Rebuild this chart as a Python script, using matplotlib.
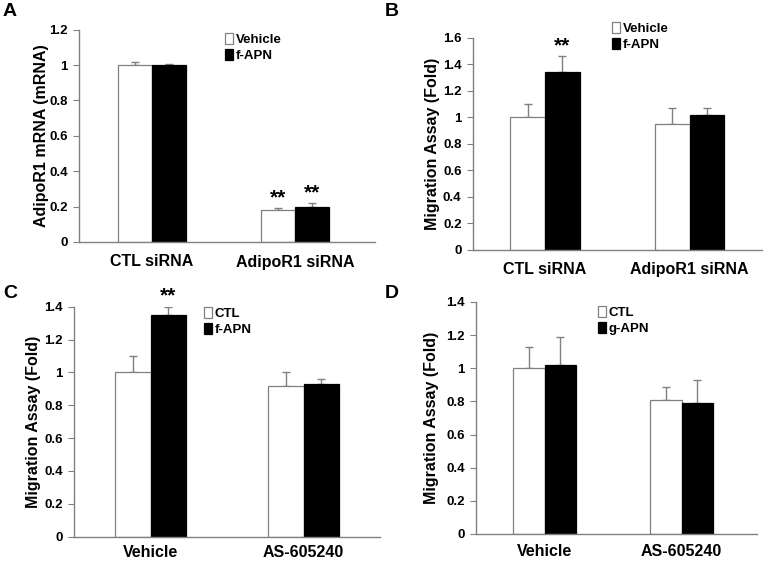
import matplotlib
matplotlib.use("Agg")
import matplotlib.pyplot as plt
import numpy as np

plt.rcParams['font.family'] = ['Liberation Sans', 'DejaVu Sans']
plt.rcParams['font.weight'] = 'bold'

# Data
groups_A = ["CTL siRNA", "AdipoR1 siRNA"]
labels_A = ["Vehicle", "f-APN"]
white_A = [1.0, 0.18]
white_err_A = [0.02, 0.01]
black_A = [1.0, 0.20]
black_err_A = [0.005, 0.02]
stars_A = [[False, False], [True, True]]
yticks_A = [0, 0.2, 0.4, 0.6, 0.8, 1, 1.2]

groups_B = ["CTL siRNA", "AdipoR1 siRNA"]
labels_B = ["Vehicle", "f-APN"]
white_B = [1.0, 0.95]
white_err_B = [0.10, 0.12]
black_B = [1.34, 1.02]
black_err_B = [0.12, 0.05]
stars_B = [[False, True], [False, False]]
yticks_B = [0, 0.2, 0.4, 0.6, 0.8, 1, 1.2, 1.4, 1.6]

groups_C = ["Vehicle", "AS-605240"]
labels_C = ["CTL", "f-APN"]
white_C = [1.0, 0.92]
white_err_C = [0.10, 0.08]
black_C = [1.35, 0.93]
black_err_C = [0.05, 0.03]
stars_C = [[False, True], [False, False]]
yticks_C = [0, 0.2, 0.4, 0.6, 0.8, 1, 1.2, 1.4]

groups_D = ["Vehicle", "AS-605240"]
labels_D = ["CTL", "g-APN"]
white_D = [1.0, 0.81]
white_err_D = [0.13, 0.08]
black_D = [1.02, 0.79]
black_err_D = [0.17, 0.14]
stars_D = [[False, False], [False, False]]
yticks_D = [0, 0.2, 0.4, 0.6, 0.8, 1, 1.2, 1.4]

W, H = 764, 561
fig = plt.figure(figsize=(W / 100, H / 100), dpi=100)

GRAY = '#808080'


def fmt(v):
    return '%g' % v


def panel(letter, box, xlim, ylim, groups, labels, white, werr, black, berr,
          stars, yticks, ylabel, leg_xy, letter_xy, bw, labelpad, xpad):
    l, t, r, b = box
    ax = fig.add_axes([l / W, 1 - b / H, (r - l) / W, (b - t) / H])
    x = np.arange(len(groups))
    ax.bar(x - bw / 2, white, bw, color='white', edgecolor=GRAY, linewidth=0.9,
           label=labels[0], zorder=2)
    ax.bar(x + bw / 2, black, bw, color='black', edgecolor='black', linewidth=0.9,
           label=labels[1], zorder=2)
    ax.errorbar(x - bw / 2, white, yerr=[np.zeros(len(x)), werr], fmt='none',
                ecolor=GRAY, elinewidth=1, capsize=3, capthick=1, zorder=1)
    ax.errorbar(x + bw / 2, black, yerr=[np.zeros(len(x)), berr], fmt='none',
                ecolor=GRAY, elinewidth=1, capsize=3, capthick=1, zorder=1)
    for i in range(len(x)):
        for j, (vals, errs) in enumerate(((white, werr), (black, berr))):
            if stars[i][j]:
                xx = x[i] + (-bw / 2 if j == 0 else bw / 2)
                ax.text(xx, vals[i] + errs[i] + 0.005 * ylim[1], '**', ha='center',
                        va='bottom', fontsize=15, fontweight='bold')
    ax.set_xlim(*xlim)
    ax.set_ylim(*ylim)
    ax.set_yticks(yticks)
    ax.set_yticklabels([fmt(v) for v in yticks], fontsize=9.5, fontweight='bold')
    ax.set_xticks(x)
    ax.set_xticklabels(groups, fontsize=11.5, fontweight='bold')
    ax.tick_params(axis='x', length=0, pad=xpad)
    ax.tick_params(axis='y', length=4, color=GRAY, direction='out', pad=4)
    for s in ('top', 'right'):
        ax.spines[s].set_visible(False)
    for s in ('left', 'bottom'):
        ax.spines[s].set_color(GRAY)
        ax.spines[s].set_linewidth(1)
    ax.set_ylabel(ylabel, fontsize=11.5, fontweight='bold', labelpad=labelpad)
    ax.legend(loc='upper left', bbox_to_anchor=(leg_xy[0] / W, 1 - leg_xy[1] / H),
              bbox_transform=fig.transFigure, frameon=False, handlelength=0.6,
              handleheight=0.9, handletextpad=0.2, labelspacing=0.2, borderpad=0,
              borderaxespad=0, prop={'size': 9.5, 'weight': 'bold'})
    fig.text(letter_xy[0] / W, 1 - letter_xy[1] / H, letter, fontsize=14,
             fontweight='bold', ha='left', va='center')
    return ax


panel('A', (79, 29.7, 375, 242), (-0.51, 1.56), (0, 1.2), groups_A, labels_A,
      white_A, white_err_A, black_A, black_err_A, stars_A, yticks_A,
      'AdipoR1 mRNA (mRNA)', (225, 33), (3, 12), 0.24, 0, 9)
panel('B', (472.7, 37.7, 762, 250), (-0.5, 1.5), (0, 1.6), groups_B, labels_B,
      white_B, white_err_B, black_B, black_err_B, stars_B, yticks_B,
      'Migration Assay (Fold)', (612, 22), (385, 12), 0.24, 2, 9)
panel('C', (74, 306.7, 380, 536.7), (-0.5, 1.5), (0, 1.4), groups_C, labels_C,
      white_C, white_err_C, black_C, black_err_C, stars_C, yticks_C,
      'Migration Assay (Fold)', (204, 307), (3, 294), 0.23, 2, 6)
panel('D', (476, 302, 757, 534), (-0.5, 1.55), (0, 1.4), groups_D, labels_D,
      white_D, white_err_D, black_D, black_err_D, stars_D, yticks_D,
      'Migration Assay (Fold)', (598, 306), (385, 294), 0.23, 5, 7)

fig.savefig('out.png', dpi=100)
